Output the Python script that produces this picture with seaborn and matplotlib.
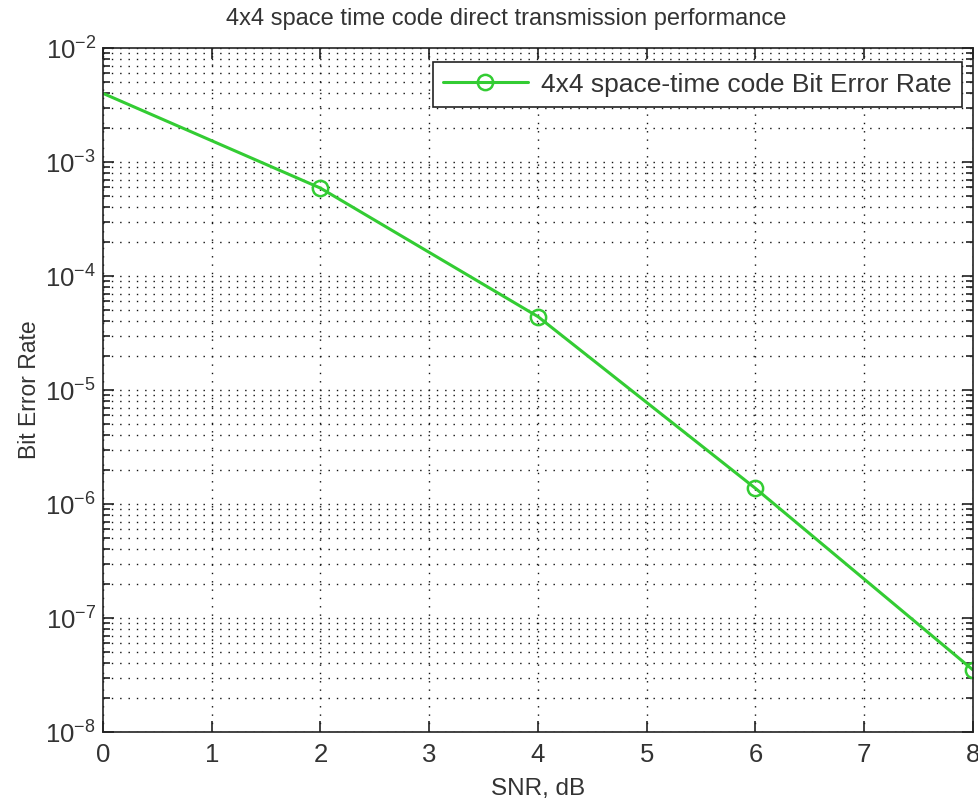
import numpy as np
import pandas as pd
import seaborn as sns
import matplotlib
matplotlib.use("Agg")
import matplotlib.pyplot as plt
from matplotlib.ticker import LogLocator, FixedLocator

snr_db = [0, 2, 4, 6, 8]
ber = [4.0e-3, 5.9e-4, 4.4e-5, 1.37e-6, 3.5e-8]
series_label = "4x4 space-time code Bit Error Rate"
title = "4x4 space time code direct transmission performance"
xlabel = "SNR, dB"
ylabel = "Bit Error Rate"
x_ticks = [0, 1, 2, 3, 4, 5, 6, 7, 8]

sns.set_theme(style="white")
plt.rcParams['font.family'] = ['Liberation Sans', 'DejaVu Sans']
plt.rcParams['mathtext.fontset'] = 'custom'
plt.rcParams['mathtext.rm'] = 'Liberation Sans'
plt.rcParams['mathtext.it'] = 'Liberation Sans'
plt.rcParams['mathtext.bf'] = 'Liberation Sans'

df = pd.DataFrame({"snr": snr_db, "ber": ber})

fig = plt.figure(figsize=(9.79, 8.06), dpi=100)
ax = fig.add_axes([103/979, 1 - 732/806, 870/979, 684/806])

green = "#33cc33"
sns.lineplot(data=df, x="snr", y="ber", ax=ax, color=green, linewidth=2.2,
             marker="o", markersize=11, markerfacecolor="none",
             markeredgecolor=green, markeredgewidth=1.8,
             markevery=[1, 2, 3, 4], label=series_label)

ax.set_yscale("log")
ax.set_xlim(0, 8)
ax.set_ylim(1e-8, 1e-2)
ax.xaxis.set_major_locator(FixedLocator(x_ticks))
ax.yaxis.set_major_locator(LogLocator(base=10, numticks=20))
ax.yaxis.set_minor_locator(LogLocator(base=10, subs=np.arange(2, 10), numticks=20))

grid_kw = dict(color="#111111", linestyle=(0, (1, 5)), linewidth=1.0)
ax.grid(True, which="major", axis="both", **grid_kw)
ax.grid(True, which="minor", axis="y", **grid_kw)

for s in ax.spines.values():
    s.set_visible(True)
    s.set_color("#222222")
    s.set_linewidth(1.2)

ax.tick_params(which="both", direction="in", top=True, right=True,
               left=True, bottom=True, colors="#222222", labelsize=18.5,
               labelcolor="#333333")
ax.tick_params(which="major", length=8, width=1.2)
ax.tick_params(which="minor", length=5, width=1.2)
ax.tick_params(axis="x", pad=8)
ax.tick_params(axis="y", pad=5)

ax.set_xlabel(xlabel, fontsize=17.5, labelpad=8, color="#333333")
ax.set_ylabel(ylabel, fontsize=16.5, labelpad=3, color="#333333")
fig.text(506/979, 1 - 19/806, title, ha="center", va="center", fontsize=17,
         color="#333333")

leg = ax.legend(loc="upper right", fontsize=19, frameon=True, fancybox=False,
                edgecolor="#222222", framealpha=1, borderpad=0.4,
                handlelength=3.2, handletextpad=0.5, borderaxespad=0,
                bbox_to_anchor=(962/870 - 103/870, 1 - 14/684))
leg.get_frame().set_linewidth(1.2)
for t in leg.get_texts():
    t.set_color("#333333")

fig.savefig("out.png", dpi=100)
